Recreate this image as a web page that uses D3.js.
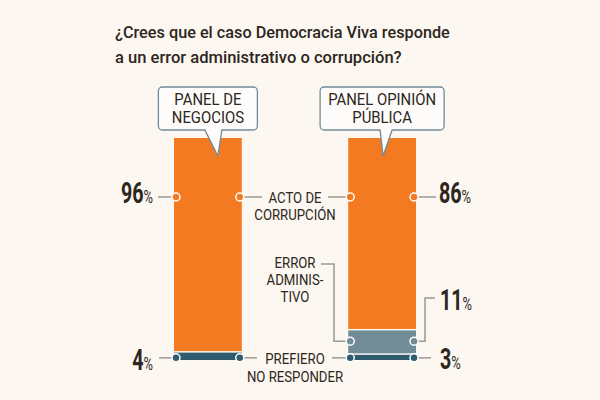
<!DOCTYPE html>
<html lang="es">
<head>
<meta charset="UTF-8">
<title>Democracia Viva</title>
<script src="https://d3js.org/d3.v7.min.js"></script>
<style>
  html, body { margin: 0; padding: 0; background: #fcf7f1; }
  svg { display: block; font-family: Roboto, "Noto Sans", sans-serif; }
</style>
</head>
<body>
<div id="chart"></div>
<script>
// datos
const panels = ["PANEL DE NEGOCIOS", "PANEL OPINIÓN PÚBLICA"];
const panelLines = [["PANEL DE", "NEGOCIOS"], ["PANEL OPINIÓN", "PÚBLICA"]];
const corrupcion = [96, 86];
const errorAdm = [0, 11];
const noResponde = [4, 3];
const titleLines = ["¿Crees que el caso Democracia Viva responde", "a un error administrativo o corrupción?"];

const W = 600, H = 400;
const ink = "#2d261c", lineCol = "#9b9892";
const cOrange = "#f47a21", cGray = "#718b97", cDark = "#2f5b6f";

const svg = d3.select("#chart").append("svg").attr("width", W).attr("height", H);
svg.append("rect").attr("width", W).attr("height", H).attr("fill", "#fcf7f1");

const x = d3.scaleBand().domain(panels).range([174, 416]).paddingInner(0.611).paddingOuter(0);
const y = d3.scaleLinear().domain([0, 100]).range([360, 138]);

// texto con escala horizontal (fuente condensada)
function label(g, px, py, str, o) {
  const t = g.append("g").attr("transform", `translate(${px},${py}) scale(${o.sx || 1},1)`)
    .append("text")
    .attr("text-anchor", o.anchor || "start")
    .attr("font-size", o.size)
    .attr("font-weight", o.weight || 400)
    .attr("fill", o.fill || ink)
    .text(str);
  return t;
}
function pct(g, px, py, v, anchor) {
  const t = g.append("g").attr("transform", `translate(${px},${py}) scale(0.68,1)`)
    .append("text").attr("text-anchor", anchor).attr("fill", ink);
  t.append("tspan").attr("font-size", 29).attr("font-weight", 700).text(v);
  t.append("tspan").attr("font-size", 19).attr("font-weight", 400).text("%");
}

// título (ancho ajustado a la referencia)
const titleW = [335, 287];
titleLines.forEach((s, i) => {
  const t = svg.append("text").attr("x", 115).attr("y", 38 + i * 25)
    .attr("font-size", 17).attr("font-weight", 500).attr("fill", ink).text(s);
  const k = titleW[i] / t.node().getComputedTextLength();
  t.attr("transform", `translate(115,0) scale(${k},1) translate(-115,0)`);
});

// barras
const stacks = panels.map((p, i) => [
  { key: "corr", v0: noResponde[i] + errorAdm[i], v1: 100, color: cOrange },
  { key: "err", v0: noResponde[i], v1: noResponde[i] + errorAdm[i], color: cGray },
  { key: "nr", v0: 0, v1: noResponde[i], color: cDark }
].filter(d => d.v1 > d.v0).map(d => ({ ...d, panel: p, idx: i })));

const bars = svg.append("g");
stacks.forEach(segs => {
  bars.selectAll(null).data(segs).enter().append("rect")
    .attr("x", d => x(d.panel))
    .attr("width", x.bandwidth())
    .attr("y", d => y(d.v1) + (d.v1 < 100 ? 1.5 : 0))
    .attr("height", d => y(d.v0) - y(d.v1) - (d.v1 < 100 ? 1.5 : 0))
    .attr("fill", d => d.color);
});

// bocadillos
panels.forEach((p, i) => {
  const cx = x(p) + x.bandwidth() / 2;
  const bw = i === 0 ? 99 : 124;
  const x0 = cx - bw / 2, x1 = cx + bw / 2, y0 = 87, y1 = 130, r = 4;
  const pL = i === 0 ? cx - 3 : cx - 2;
  const pR = i === 0 ? cx + 14 : cx + 10;
  const tip = i === 0 ? cx + 10 : cx + 1;
  const path = d3.path();
  path.moveTo(x0 + r, y0);
  path.lineTo(x1 - r, y0); path.arcTo(x1, y0, x1, y0 + r, r);
  path.lineTo(x1, y1 - r); path.arcTo(x1, y1, x1 - r, y1, r);
  path.lineTo(pR, y1); path.lineTo(tip, 156); path.lineTo(pL, y1);
  path.lineTo(x0 + r, y1); path.arcTo(x0, y1, x0, y1 - r, r);
  path.lineTo(x0, y0 + r); path.arcTo(x0, y0, x0 + r, y0, r);
  path.closePath();
  svg.append("path").attr("d", path.toString())
    .attr("fill", "#fdfcfa").attr("stroke", cGray).attr("stroke-width", 1.3);
  panelLines[i].forEach((s, j) => label(svg, cx, 105 + j * 18, s, { size: 16, sx: 0.93, anchor: "middle" }));
});

// conectores y puntos
const lines = svg.append("g").attr("fill", "none").attr("stroke", lineCol).attr("stroke-width", 1.5);
const ln = d3.line();
const lx = x(panels[0]), rx = x(panels[0]) + x.bandwidth();
const lx2 = x(panels[1]), rx2 = x(panels[1]) + x.bandwidth();
const yCorr = 197;
const yErr = (y(noResponde[1]) + y(noResponde[1] + errorAdm[1])) / 2;
const yNr = y(noResponde[1]) + 4.5;
const mid = (rx + lx2) / 2;

[
  [[158, yCorr], [lx, yCorr]],
  [[rx, yCorr], [mid - 33, yCorr]],
  [[mid + 33, yCorr], [lx2, yCorr]],
  [[rx2, yCorr], [rx2 + 20, yCorr]],
  [[mid + 26, 264], [mid + 39, 264], [mid + 39, yErr], [lx2, yErr]],
  [[rx2, yErr], [rx2 + 9, yErr], [rx2 + 9, 298], [rx2 + 19, 298]],
  [[159, yNr], [lx, yNr]],
  [[rx, yNr], [mid - 38, yNr]],
  [[mid + 37, yNr], [lx2, yNr]],
  [[rx2, yNr], [rx2 + 15, yNr]]
].forEach(pts => lines.append("path").attr("d", ln(pts)));

const dots = [
  [lx + 2, yCorr, cOrange], [rx - 2, yCorr, cOrange],
  [lx2 + 2, yCorr, cOrange], [rx2 - 2, yCorr, cOrange],
  [lx2 + 2, yErr, cGray], [rx2 - 2, yErr, cGray],
  [lx + 2, yNr, cDark], [rx - 2, yNr, cDark],
  [lx2 + 2, yNr, cDark], [rx2 - 2, yNr, cDark]
];
svg.append("g").selectAll("circle").data(dots).enter().append("circle")
  .attr("cx", d => d[0]).attr("cy", d => d[1]).attr("r", 4)
  .attr("fill", d => d[2]).attr("stroke", "#fff").attr("stroke-width", 1.5);

// etiquetas de categorías
const lab = { size: 15, sx: 0.88, anchor: "middle" };
label(svg, mid, 203, "ACTO DE", lab);
label(svg, mid, 220, "CORRUPCIÓN", lab);
label(svg, mid, 268, "ERROR", lab);
label(svg, mid, 285, "ADMINIS-", lab);
label(svg, mid, 302, "TIVO", lab);
label(svg, mid, 364, "PREFIERO", lab);
label(svg, mid, 382, "NO RESPONDER", lab);

// porcentajes
pct(svg, 153, 203, corrupcion[0], "end");
pct(svg, 153, 370, noResponde[0], "end");
pct(svg, 439, 203, corrupcion[1], "start");
pct(svg, 440, 310, errorAdm[1], "start");
pct(svg, 440, 369, noResponde[1], "start");
</script>
</body>
</html>
